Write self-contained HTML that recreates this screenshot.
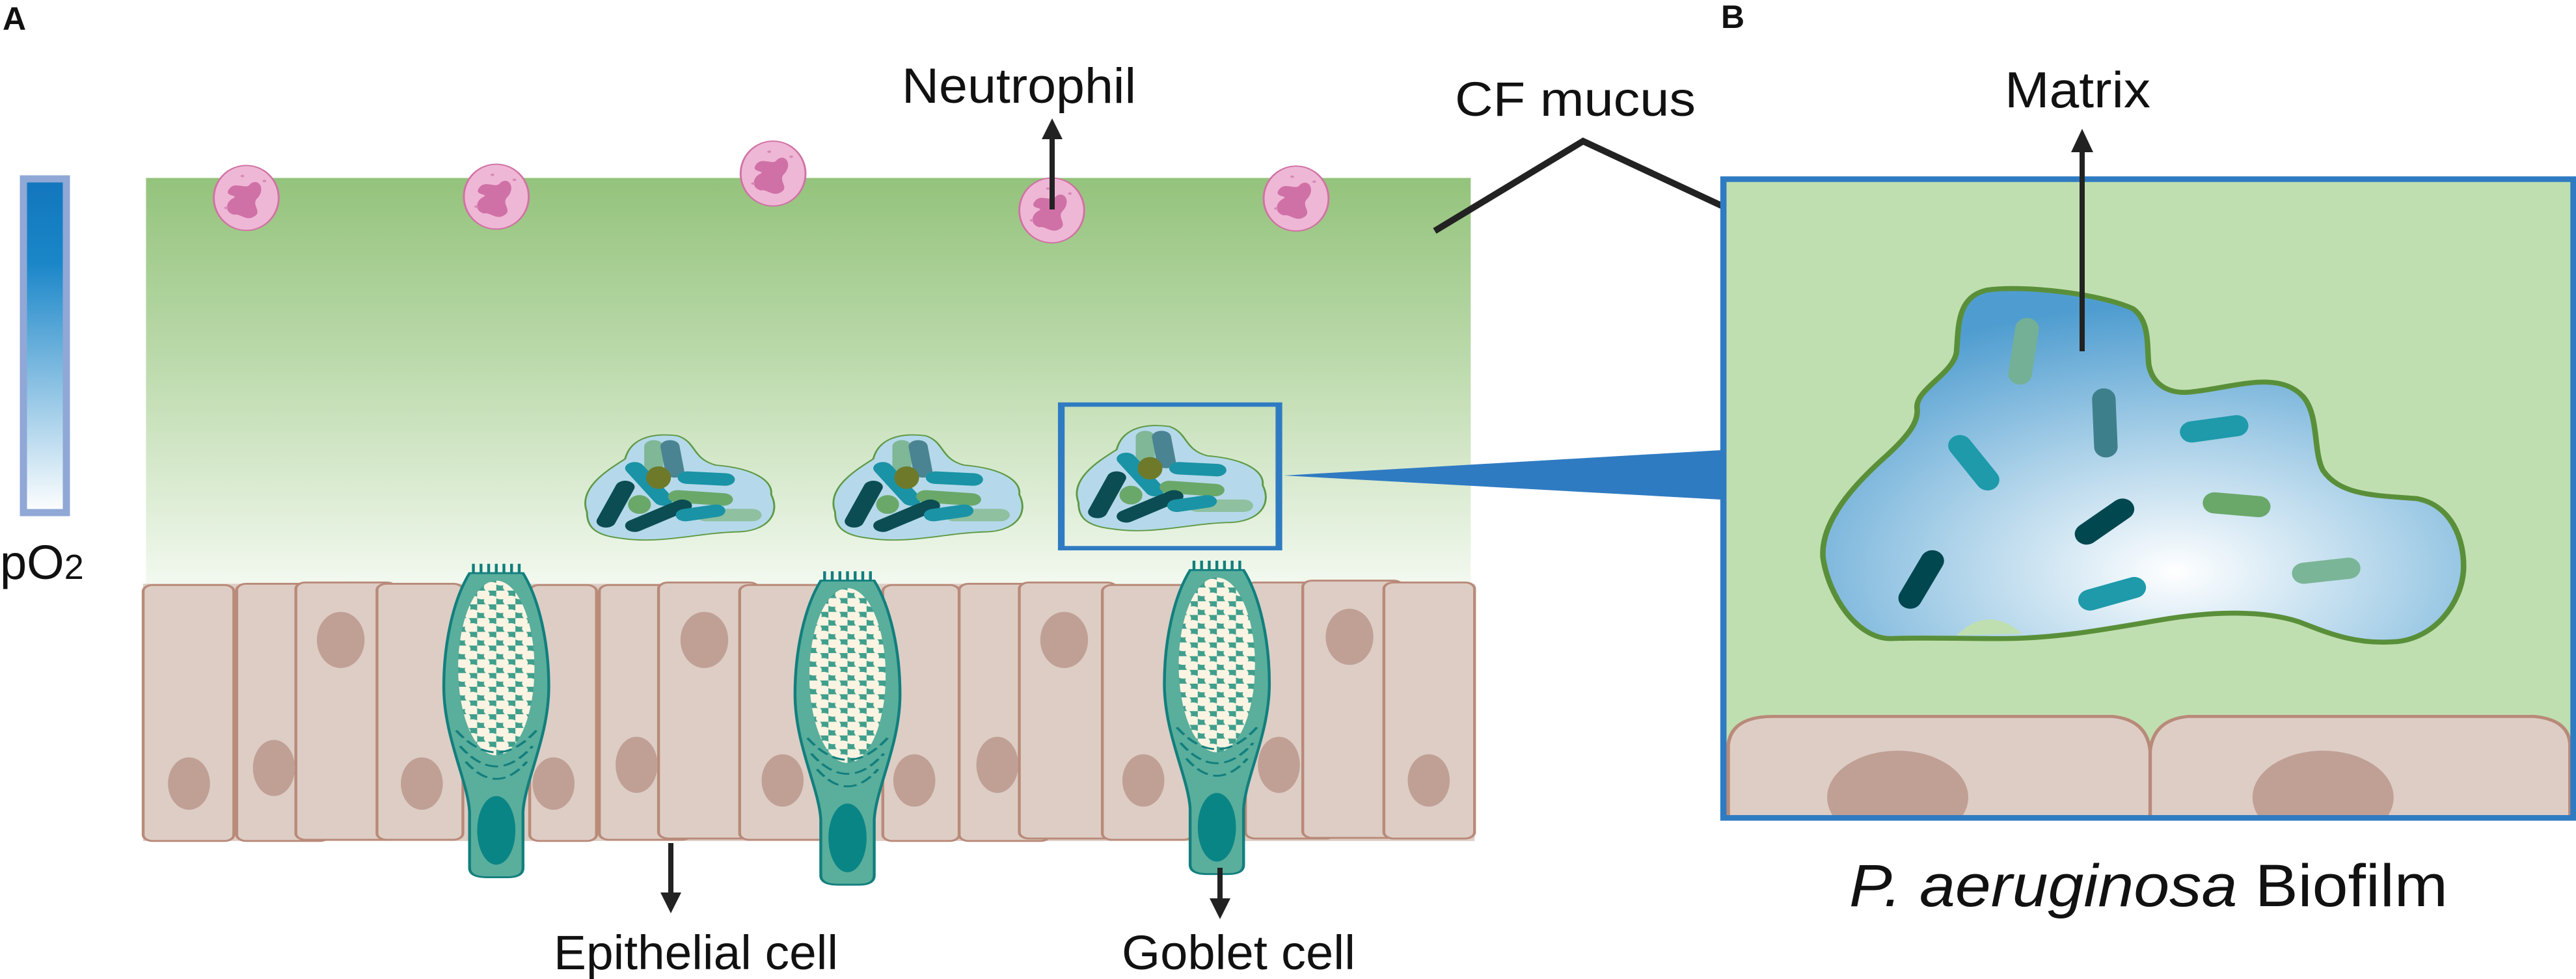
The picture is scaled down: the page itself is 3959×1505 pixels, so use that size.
<!DOCTYPE html>
<html><head><meta charset="utf-8"><style>html,body{margin:0;padding:0;background:#fff}svg{display:block}</style></head>
<body>
<svg xmlns="http://www.w3.org/2000/svg" width="3959" height="1505" viewBox="0 0 3959 1505">
<defs>
<linearGradient id="mucus" x1="0" y1="0" x2="0" y2="1">
<stop offset="0" stop-color="#94c37c"/><stop offset="0.45" stop-color="#bcdaac"/><stop offset="1" stop-color="#f3f9f0"/>
</linearGradient>
<linearGradient id="po2" x1="0" y1="0" x2="0" y2="1">
<stop offset="0" stop-color="#1276bd"/><stop offset="0.25" stop-color="#1a86c8"/><stop offset="1" stop-color="#ffffff"/>
</linearGradient>
<radialGradient id="matrix" cx="0.55" cy="0.8" r="0.75">
<stop offset="0" stop-color="#ffffff"/><stop offset="0.5" stop-color="#a9d0e8"/><stop offset="1" stop-color="#4f9dd0"/>
</radialGradient>
<pattern id="gran" width="20" height="22" patternUnits="userSpaceOnUse">
<rect width="20" height="22" fill="#3f9f8c"/>
<ellipse cx="5" cy="5.5" rx="8" ry="8.5" fill="#fbf4e2"/><ellipse cx="15" cy="16.5" rx="8" ry="8.5" fill="#fbf4e2"/>
</pattern>
<clipPath id="bclip"><rect x="332" y="296" width="1221" height="1018"/></clipPath>
<g id="clust">
<path d="M-95,40 C-105,0 -70,-30 -55,-45 C-50,-75 -30,-88 0,-82 C20,-72 15,-45 40,-35 C80,-30 100,-10 98,12 C108,42 95,72 60,72 C20,74 -20,92 -60,82 C-90,77 -95,60 -95,40Z" fill="#b5d9ea" stroke="#5f9a45" stroke-width="2"/>
<g stroke-linecap="round" stroke-width="20">
<line x1="-25" y1="-65" x2="-25" y2="-20" stroke="#7fb797"/>
<line x1="-8" y1="-65" x2="-3" y2="-25" stroke="#4a8493"/>
<line x1="30" y1="45" x2="78" y2="45" stroke="#8fc0a0"/>
<line x1="-45" y1="-30" x2="-15" y2="20" stroke="#1a93a6"/>
<line x1="-75" y1="55" x2="-55" y2="0" stroke="#0b4d52"/>
<line x1="10" y1="-15" x2="50" y2="-12" stroke="#1a93a6"/>
<line x1="0" y1="15" x2="48" y2="20" stroke="#6aa86a"/>
<line x1="-45" y1="62" x2="5" y2="30" stroke="#0b4d52"/>
<line x1="8" y1="45" x2="40" y2="38" stroke="#1a93a6"/>
</g>
<ellipse cx="-20" cy="-15" rx="13" ry="18" fill="#6e7a2a"/>
<ellipse cx="-40" cy="28" rx="12" ry="15" fill="#6aa86a"/>
</g>
<g id="neut">
<ellipse cx="0" cy="0" rx="34" ry="52" fill="#efb7d6" stroke="#d072a4" stroke-width="2"/>
<path d="M-18,-14 C-12,-28 0,-12 4,-22 C12,-33 21,-16 12,0 C4,11 18,22 8,30 C0,38 -7,24 -13,27 C-24,22 -21,5 -13,0 C-8,-5 -24,-2 -18,-14Z" fill="#cf71a6"/>
<circle cx="-21" cy="16" r="2" fill="#d68ab5"/><circle cx="19" cy="-27" r="2" fill="#d68ab5"/><circle cx="-4" cy="-35" r="2" fill="#d68ab5"/>
</g>
<g id="gob">
<g stroke="#127f7d" stroke-width="3">
<line x1="-24" y1="903" x2="-24" y2="925"/><line x1="-16" y1="903" x2="-16" y2="925"/><line x1="-8" y1="903" x2="-8" y2="925"/><line x1="0" y1="903" x2="0" y2="925"/><line x1="8" y1="903" x2="8" y2="925"/><line x1="16" y1="903" x2="16" y2="925"/><line x1="24" y1="903" x2="24" y2="925"/>
</g>
<path d="M-28,918 C-45,960 -55,1030 -55,1100 C-55,1180 -30,1250 -28,1300 L-28,1390 Q-28,1405 -10,1405 L12,1405 Q28,1405 28,1390 L28,1300 C30,1250 55,1180 55,1100 C55,1030 45,960 28,918 Z" fill="#5aae9c" stroke="#127f7d" stroke-width="3"/>
<ellipse cx="0" cy="1070" rx="40" ry="140" fill="url(#gran)"/>
<g fill="none" stroke="#127f7d" stroke-width="3" stroke-dasharray="14 6">
<path d="M-42,1170 Q0,1240 42,1170"/><path d="M-38,1195 Q0,1260 38,1195"/><path d="M-32,1220 Q0,1275 32,1220"/>
</g>
<ellipse cx="0" cy="1330" rx="20" ry="55" fill="#0a8585"/>
</g>
</defs>

<g transform="scale(1.4668,0.9598)">
<rect x="153" y="285" width="1388" height="655" fill="url(#mucus)"/>
<use href="#neut" x="258" y="317"/>
<use href="#neut" x="520" y="315"/>
<use href="#neut" x="810" y="278"/>
<use href="#neut" x="1102" y="337"/>
<use href="#neut" x="1358" y="318"/>
<use href="#clust" x="710" y="780"/>
<use href="#clust" x="970" y="780"/>
<use href="#clust" x="1225" y="765"/>
<rect x="1112" y="648" width="228" height="230" fill="none" stroke="#2f7bc2" stroke-width="7"/>
<rect x="150" y="935" width="1395" height="412" fill="#ddcdc5"/>
<g fill="#ddcdc5" stroke="#b98a79" stroke-width="3">
<rect x="150" y="937" width="95" height="410" rx="10"/>
<rect x="248" y="935" width="97" height="412" rx="10"/>
<rect x="310" y="933" width="105" height="412" rx="10"/>
<rect x="395" y="935" width="90" height="410" rx="10"/>
<rect x="555" y="937" width="70" height="410" rx="10"/>
<rect x="628" y="937" width="97" height="408" rx="10"/>
<rect x="690" y="933" width="105" height="410" rx="10"/>
<rect x="775" y="937" width="95" height="408" rx="10"/>
<rect x="925" y="937" width="80" height="410" rx="10"/>
<rect x="1005" y="935" width="95" height="412" rx="10"/>
<rect x="1068" y="933" width="102" height="410" rx="10"/>
<rect x="1155" y="937" width="95" height="408" rx="10"/>
<rect x="1305" y="933" width="95" height="410" rx="10"/>
<rect x="1365" y="930" width="105" height="412" rx="10"/>
<rect x="1450" y="933" width="95" height="410" rx="10"/>
</g>
<g fill="#c0a095">
<ellipse cx="198" cy="1255" rx="22" ry="42"/><ellipse cx="287" cy="1230" rx="22" ry="45"/><ellipse cx="357" cy="1025" rx="25" ry="45"/><ellipse cx="442" cy="1255" rx="22" ry="42"/><ellipse cx="580" cy="1255" rx="22" ry="42"/><ellipse cx="667" cy="1225" rx="22" ry="45"/><ellipse cx="738" cy="1025" rx="25" ry="45"/><ellipse cx="820" cy="1250" rx="22" ry="42"/><ellipse cx="958" cy="1250" rx="22" ry="42"/><ellipse cx="1045" cy="1225" rx="22" ry="45"/><ellipse cx="1115" cy="1025" rx="25" ry="45"/><ellipse cx="1198" cy="1250" rx="22" ry="42"/><ellipse cx="1340" cy="1225" rx="22" ry="45"/><ellipse cx="1414" cy="1020" rx="25" ry="45"/><ellipse cx="1497" cy="1250" rx="22" ry="42"/>
</g>
<use href="#gob" x="520" y="0"/>
<use href="#gob" x="888" y="12"/>
<use href="#gob" x="1275" y="-5"/>
</g>

<rect x="36" y="275" width="66" height="513" fill="url(#po2)" stroke="#8fa8d6" stroke-width="11"/>

<polygon points="1973,731 2645,692 2645,768" fill="#2f7bc2"/>

<polyline points="2205,355 2433,217 2712,347" fill="none" stroke="#222" stroke-width="10"/>

<g transform="translate(2300,-4) scale(1.063,0.957)">
<rect x="328" y="292" width="1229" height="1026" fill="#c0dfb0"/>
<g clip-path="url(#bclip)">
<path d="M335,1330 L335,1200 Q340,1155 400,1155 L890,1155 Q940,1160 945,1210 Q950,1160 1000,1155 L1500,1155 Q1550,1160 1552,1200 L1552,1330 Z" fill="#ddcdc5" stroke="#b98a79" stroke-width="5"/>
<line x1="945" y1="1210" x2="945" y2="1320" stroke="#b98a79" stroke-width="5"/>
<ellipse cx="580" cy="1285" rx="102" ry="75" fill="#c0a095"/>
<ellipse cx="1195" cy="1285" rx="102" ry="75" fill="#c0a095"/>
</g>
<rect x="328" y="292" width="1229" height="1026" fill="none" stroke="#2f7bc2" stroke-width="9"/>
<path d="M570,1030 C520,1030 480,960 472,900 C468,840 520,780 560,740 C600,700 610,680 608,660 C605,630 660,605 665,570 C668,530 665,480 710,470 C760,462 870,475 920,500 C945,520 940,560 943,590 C948,620 970,640 1010,633 C1070,625 1130,600 1165,640 C1190,670 1180,730 1195,760 C1220,800 1270,800 1330,805 C1380,815 1400,870 1398,920 C1395,975 1355,1030 1300,1035 C1240,1040 1200,1020 1160,1003 C1110,985 1040,985 960,1000 C880,1015 810,1030 730,1030 C660,1030 610,1028 570,1030Z" fill="url(#matrix)" stroke="#5a8f3a" stroke-width="8"/>
<path d="M665,1025 Q710,975 760,1022Z" fill="#c0dfb0"/>
<g stroke-linecap="round" stroke-width="34">
<line x1="767" y1="532" x2="757" y2="605" stroke="#74b095"/>
<line x1="878" y1="645" x2="881" y2="722" stroke="#3e7f8c"/>
<line x1="1005" y1="698" x2="1070" y2="688" stroke="#1e9aaa"/>
<line x1="670" y1="720" x2="710" y2="775" stroke="#1e9aaa"/>
<line x1="1038" y1="812" x2="1102" y2="818" stroke="#6aa86a"/>
<line x1="905" y1="822" x2="853" y2="862" stroke="#00474f"/>
<line x1="630" y1="905" x2="598" y2="965" stroke="#00474f"/>
<line x1="858" y1="968" x2="922" y2="948" stroke="#1e9aaa"/>
<line x1="1167" y1="925" x2="1232" y2="917" stroke="#7ab597"/>
</g>
</g>

<g stroke="#222" stroke-width="8">
<line x1="1617" y1="322" x2="1617" y2="210"/>
<line x1="1031" y1="1296" x2="1031" y2="1375"/>
<line x1="1875" y1="1334" x2="1875" y2="1385"/>
<line x1="3200" y1="540" x2="3200" y2="230"/>
</g>
<g fill="#222">
<polygon points="1617,182 1601,214 1633,214"/>
<polygon points="1031,1404 1015,1372 1047,1372"/>
<polygon points="1875,1413 1859,1381 1891,1381"/>
<polygon points="3200,198 3183,234 3217,234"/>
</g>

<g font-family="'Liberation Sans', sans-serif" fill="#111">
<text x="4" y="46" font-size="50" font-weight="bold">A</text>
<text x="2645" y="43" font-size="50" font-weight="bold">B</text>
<text x="0" y="890" font-size="74">pO<tspan font-size="54">2</tspan></text>
<text x="1386" y="158" font-size="76" textLength="360" lengthAdjust="spacingAndGlyphs">Neutrophil</text>
<text x="851" y="1490" font-size="74" textLength="437" lengthAdjust="spacingAndGlyphs">Epithelial cell</text>
<text x="1724" y="1490" font-size="74" textLength="359" lengthAdjust="spacingAndGlyphs">Goblet cell</text>
<text x="2236" y="178" font-size="74" textLength="370" lengthAdjust="spacingAndGlyphs">CF mucus</text>
<text x="3081" y="165" font-size="78" textLength="224" lengthAdjust="spacingAndGlyphs">Matrix</text>
<text x="2842" y="1393" font-size="92" textLength="920" lengthAdjust="spacingAndGlyphs"><tspan font-style="italic">P. aeruginosa</tspan> Biofilm</text>
</g>
</svg>
</body></html>
